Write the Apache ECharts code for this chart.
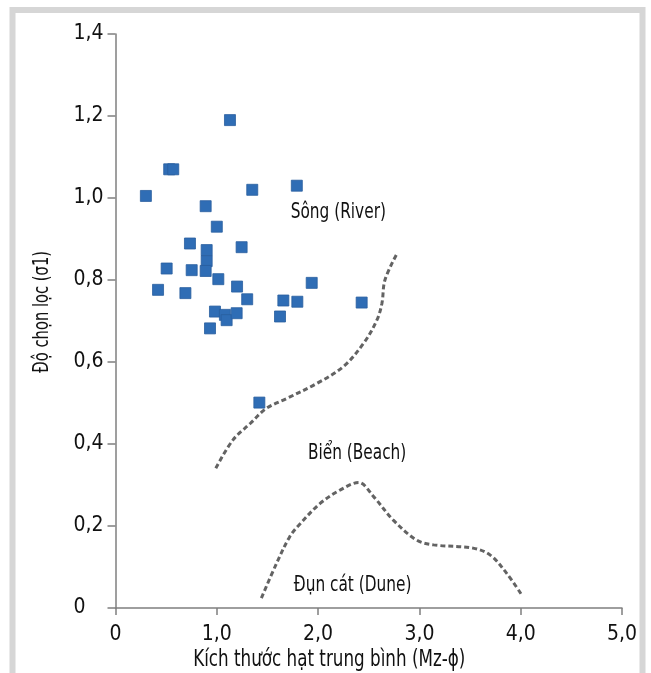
<!DOCTYPE html>
<html>
<head>
<meta charset="utf-8">
<script src="https://cdn.jsdelivr.net/npm/echarts@6/dist/echarts.min.js"></script>
<style>
html,body{margin:0;padding:0;background:#fff;}
#chart{width:651px;height:673px;}
</style>
</head>
<body>
<div id="chart"></div>
<script>
// ---- data ----
var samplesX = [1.13, 0.53, 0.57, 0.30, 1.35, 1.79, 0.89, 1.00, 0.735, 0.90, 0.90, 0.89, 1.245, 0.505, 0.752, 1.015, 1.937, 0.42, 0.69, 1.20, 1.30, 1.657, 1.795, 2.43, 1.624, 0.982, 1.08, 1.097, 1.196, 0.933, 1.42];
var samplesY = [1.19, 1.07, 1.07, 1.005, 1.02, 1.03, 0.98, 0.93, 0.889, 0.873, 0.846, 0.822, 0.880, 0.828, 0.824, 0.802, 0.793, 0.776, 0.768, 0.784, 0.753, 0.750, 0.747, 0.745, 0.711, 0.723, 0.715, 0.702, 0.719, 0.682, 0.501];

var riverLineX = [0.99, 1.16, 1.33, 1.49, 1.69, 1.99, 2.25, 2.45, 2.58, 2.63, 2.66, 2.78];
var riverLineY = [0.341, 0.410, 0.450, 0.487, 0.511, 0.548, 0.589, 0.646, 0.702, 0.743, 0.800, 0.865];

var beachLineX = [1.44, 1.59, 1.72, 1.81, 2.02, 2.22, 2.40, 2.55, 2.74, 2.97, 3.14, 3.53, 3.70, 3.86, 4.01];
var beachLineY = [0.024, 0.109, 0.174, 0.202, 0.255, 0.288, 0.306, 0.271, 0.215, 0.166, 0.154, 0.146, 0.129, 0.085, 0.032];

var areaLabels = ["Sông (River)", "Biển (Beach)", "Đụn cát (Dune)"];
var areaLabelX = [1.73, 1.90, 1.76];
var areaLabelY = [0.966, 0.378, 0.056];

var xTickLabels = ["0", "1,0", "2,0", "3,0", "4,0", "5,0"];
var yTickLabels = ["0", "0,2", "0,4", "0,6", "0,8", "1,0", "1,2", "1,4"];
var xAxisTitle = "Kích thước hạt trung bình (Mz-ϕ)";
var yAxisTitle = "Độ chọn lọc (σ1)";

// ---- build ----
function zip(a, b) { return a.map(function (v, i) { return [v, b[i]]; }); }
var FONT = "'DejaVu Sans Condensed', 'Liberation Sans', sans-serif";
var TXT = '#111111';

var chart = echarts.init(document.getElementById('chart'), null, { renderer: 'canvas' });
var option = {
  animation: false,
  backgroundColor: '#ffffff',
  grid: { left: 115.5, right: 29, top: 34, bottom: 65, containLabel: false },
  xAxis: {
    type: 'value', min: 0, max: 5, interval: 1,
    axisLine: { show: true, lineStyle: { color: '#7f7f7f', width: 1.5 } },
    axisTick: { show: true, length: 7, lineStyle: { color: '#7f7f7f', width: 1.5 } },
    splitLine: { show: false },
    axisLabel: {
      margin: 16, fontFamily: FONT, fontSize: 21, color: TXT,
      formatter: function (v) { return xTickLabels[Math.round(v)]; }
    }
  },
  yAxis: {
    type: 'value', min: 0, max: 1.4, interval: 0.2,
    axisLine: { show: true, lineStyle: { color: '#7f7f7f', width: 1.5 } },
    axisTick: { show: true, length: 8, lineStyle: { color: '#7f7f7f', width: 1.5 } },
    splitLine: { show: false },
    axisLabel: {
      margin: 42, align: 'left', fontFamily: FONT, fontSize: 21, color: TXT,
      formatter: function (v) { return yTickLabels[Math.round(v * 5)]; }
    }
  },
  series: [
    {
      type: 'line', data: zip(riverLineX, riverLineY), smooth: 0.35, symbol: 'none',
      lineStyle: { color: '#636363', width: 3, type: [5, 3] }, z: 2
    },
    {
      type: 'line', data: zip(beachLineX, beachLineY), smooth: 0.35, symbol: 'none',
      lineStyle: { color: '#636363', width: 3, type: [5, 3] }, z: 2
    },
    {
      type: 'scatter', data: zip(samplesX, samplesY), symbol: 'rect', symbolSize: 11,
      itemStyle: { color: '#2f6db5', borderColor: '#285e9e', borderWidth: 0.8, opacity: 1 }, z: 3
    }
  ]
};
chart.setOption(option);

// text elements: frame, axis titles and region labels (positioned through the chart's scales)
var gfx = [{
  type: 'rect', silent: true, z: -1,
  shape: { x: 12.5, y: 10, width: 630, height: 720 },
  style: { fill: 'none', stroke: '#d6d6d6', lineWidth: 6 }
}];
var grid = chart.getModel().getComponent('grid').coordinateSystem.getRect();
gfx.push({
  type: 'text', x: grid.x + grid.width * 0.422, y: grid.y + grid.height + 52, scaleX: 0.81,
  style: { text: xAxisTitle, font: '23px ' + FONT, fill: TXT, align: 'center', verticalAlign: 'middle' }
});
gfx.push({
  type: 'text', x: 42, y: grid.y + grid.height * 0.484, rotation: Math.PI / 2, scaleX: 0.745,
  style: { text: yAxisTitle, font: '22px ' + FONT, fill: TXT, align: 'center', verticalAlign: 'middle' }
});
areaLabels.forEach(function (t, i) {
  var p = chart.convertToPixel({ gridIndex: 0 }, [areaLabelX[i], areaLabelY[i]]);
  gfx.push({
    type: 'text', x: p[0], y: p[1], scaleX: 0.775,
    style: { text: t, font: '22px ' + FONT, fill: TXT, align: 'left', verticalAlign: 'middle' }
  });
});
chart.setOption({ graphic: gfx });
</script>
</body>
</html>
